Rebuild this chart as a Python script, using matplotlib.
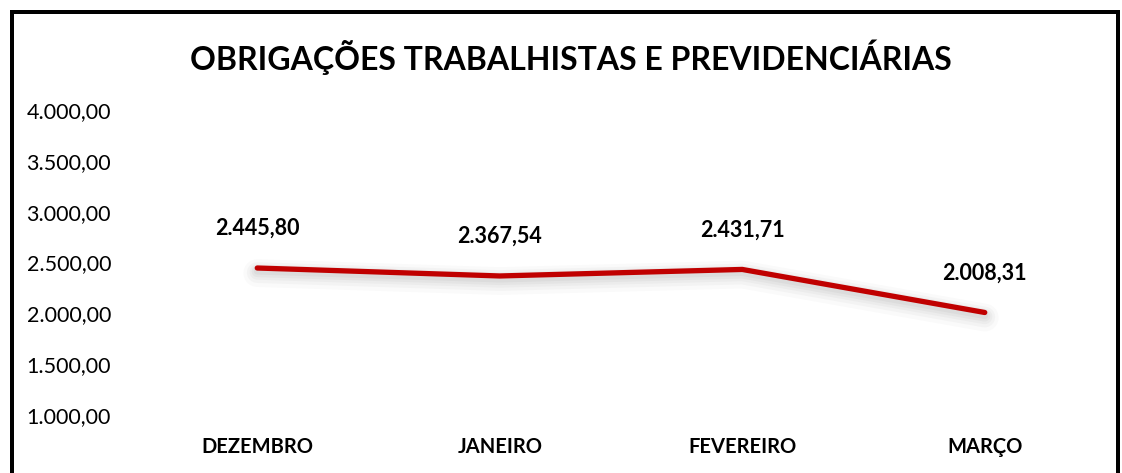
import matplotlib.pyplot as plt
from matplotlib.lines import Line2D
from matplotlib.ticker import FuncFormatter

months = ["DEZEMBRO", "JANEIRO", "FEVEREIRO", "MARÇO"]
values = [2445.80, 2367.54, 2431.71, 2008.31]
y_ticks = [1000, 1500, 2000, 2500, 3000, 3500, 4000]


def br(v):
    s = f"{v:,.2f}"
    return s.replace(",", "X").replace(".", ",").replace("X", ".")


plt.rcParams["font.family"] = ["Lato", "DejaVu Sans"]

W, H = 1122, 473
fig = plt.figure(figsize=(W / 100, H / 100), dpi=100)
ax = fig.add_axes([136 / W, 1 - 415 / H, (1106 - 136) / W, (415 - 110) / H])

x = list(range(len(months)))

# soft shadow under the line
for off, lw, a in [(-50, 20, 0.04), (-45, 15, 0.05), (-40, 11, 0.06),
                   (-35, 8, 0.07), (-30, 5, 0.08)]:
    ax.plot(x, [v + off for v in values], color="gray", lw=lw, alpha=a,
            solid_capstyle="round", solid_joinstyle="round")
ax.plot(x, values, color="#C00000", lw=3.8, solid_capstyle="round",
        solid_joinstyle="round")

for xi, v in zip(x, values):
    ax.annotate(br(v), (xi, v), xytext=(0, 21), textcoords="offset points",
                ha="center", va="bottom", fontsize=15.5, fontweight="bold")

ax.set_xlim(-0.5, len(months) - 0.5)
ax.set_ylim(1000, 4000)
ax.set_yticks(y_ticks)
ax.yaxis.set_major_formatter(FuncFormatter(lambda v, p: br(v)))
ax.set_xticks(x)
ax.set_xticklabels(months, fontweight="bold")
ax.tick_params(axis="both", length=0)
ax.tick_params(axis="x", pad=16, labelsize=14.5)
ax.tick_params(axis="y", pad=18, labelsize=15.5)
for s in ax.spines.values():
    s.set_visible(False)

fig.text(571 / W, 1 - 57 / H, "OBRIGAÇÕES TRABALHISTAS E PREVIDENCIÁRIAS",
         ha="center", va="center", fontsize=23, fontweight="bold")

# outer frame (top, left, right)
lw_px = 4
fig.add_artist(Line2D([12 / W, 1118 / W], [1 - 12 / H, 1 - 12 / H], color="black",
                      lw=lw_px * 0.72, transform=fig.transFigure))
fig.add_artist(Line2D([12 / W, 12 / W], [0, 1 - 12 / H], color="black",
                      lw=lw_px * 0.72, transform=fig.transFigure))
fig.add_artist(Line2D([1118 / W, 1118 / W], [0, 1 - 12 / H], color="black",
                      lw=lw_px * 0.72, transform=fig.transFigure))

fig.savefig("out.png", dpi=100)
